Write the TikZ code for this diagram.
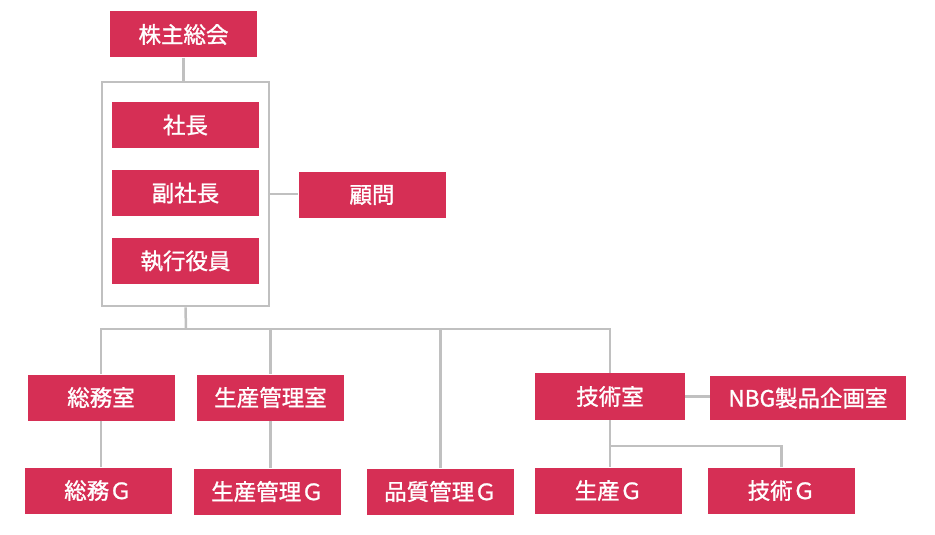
\documentclass[tikz,border=0pt]{standalone}
\usepackage{fontspec}
\setmainfont{Noto Sans CJK JP}
\newfontfamily\orgfont{Noto Sans CJK JP}[FakeBold=1.2]
\usetikzlibrary{positioning}

\definecolor{orgred}{HTML}{D62F55}
\definecolor{orggray}{HTML}{C0C0C0}

\begin{document}
\begin{tikzpicture}[x=1pt, y=-1pt, font=\orgfont\fontsize{22.5}{26}\selectfont]
  \tikzset{
    unit/.style={
      rectangle,
      fill=orgred,
      text=white,
      minimum width=147pt,
      minimum height=46pt,
      inner sep=0pt,
      text centered},
    conn/.style={
      draw=orggray,
      line width=2.5pt},
    frame/.style={
      rectangle,
      draw=orggray,
      line width=2.8pt,
      minimum width=167pt,
      minimum height=224pt}}

  \useasboundingbox (0,0) rectangle (935,535);

  \node[unit] (soukai) at (183.5,34.5) {株主総会};

  \node[frame] (frame) at (185.5,194) {};
  \node[unit] (shacho) at (185.5,125) {社長};
  \node[unit] (fukushacho) at (185.5,193) {副社長};
  \node[unit] (shikko) at (185.5,261) {執行役員};

  \node[unit] (komon) at (372,195) {顧問};

  \node[unit] (somu) at (101,397.5) {総務室};
  \node[unit] (seikan) at (270.5,397.5) {生産管理室};
  \node[unit, minimum width=150pt, minimum height=47pt] (gijutsu) at (610,396.5) {技術室};
  \node[unit, minimum width=196pt, minimum height=44pt] (nbg) at (808,398) {NBG製品企画室};

  \node[unit] (somug) at (98,490.5) {総務Ｇ};
  \node[unit] (seikang) at (267.5,491.5) {生産管理Ｇ};
  \node[unit] (hinshitsug) at (440.5,491.5) {品質管理Ｇ};
  \node[unit] (seisang) at (608.5,490.5) {生産Ｇ};
  \node[unit] (gijutsug) at (781.5,490.5) {技術Ｇ};

  \coordinate (bus) at (186,329);
  \coordinate (gbus) at (610,446);

  \path[conn] (soukai) -- (frame.north -| soukai);
  \path[conn] (frame.east) -- (frame.east -| komon.west);
  \path[conn] (frame.south) -- (bus);

  % bus to the departments
  \path[conn] (bus) -| (somu.north);
  \path[conn] (bus) -| (seikan.north);
  \path[conn] (bus) -| (hinshitsug.north);
  \path[conn] (bus) -| (gijutsu.north);

  \path[conn] (somu.south) -- (somu.south |- somug.north);
  \path[conn] (seikan.south) -- (seikan.south |- seikang.north);
  \path[conn] (gijutsu.east) -- (gijutsu.east -| nbg.west);

  \path[conn] (gijutsu.south) -- (gbus) -| (gijutsug.north);
  \path[conn] (gbus) -- (gbus |- seisang.north);

\end{tikzpicture}
\end{document}
